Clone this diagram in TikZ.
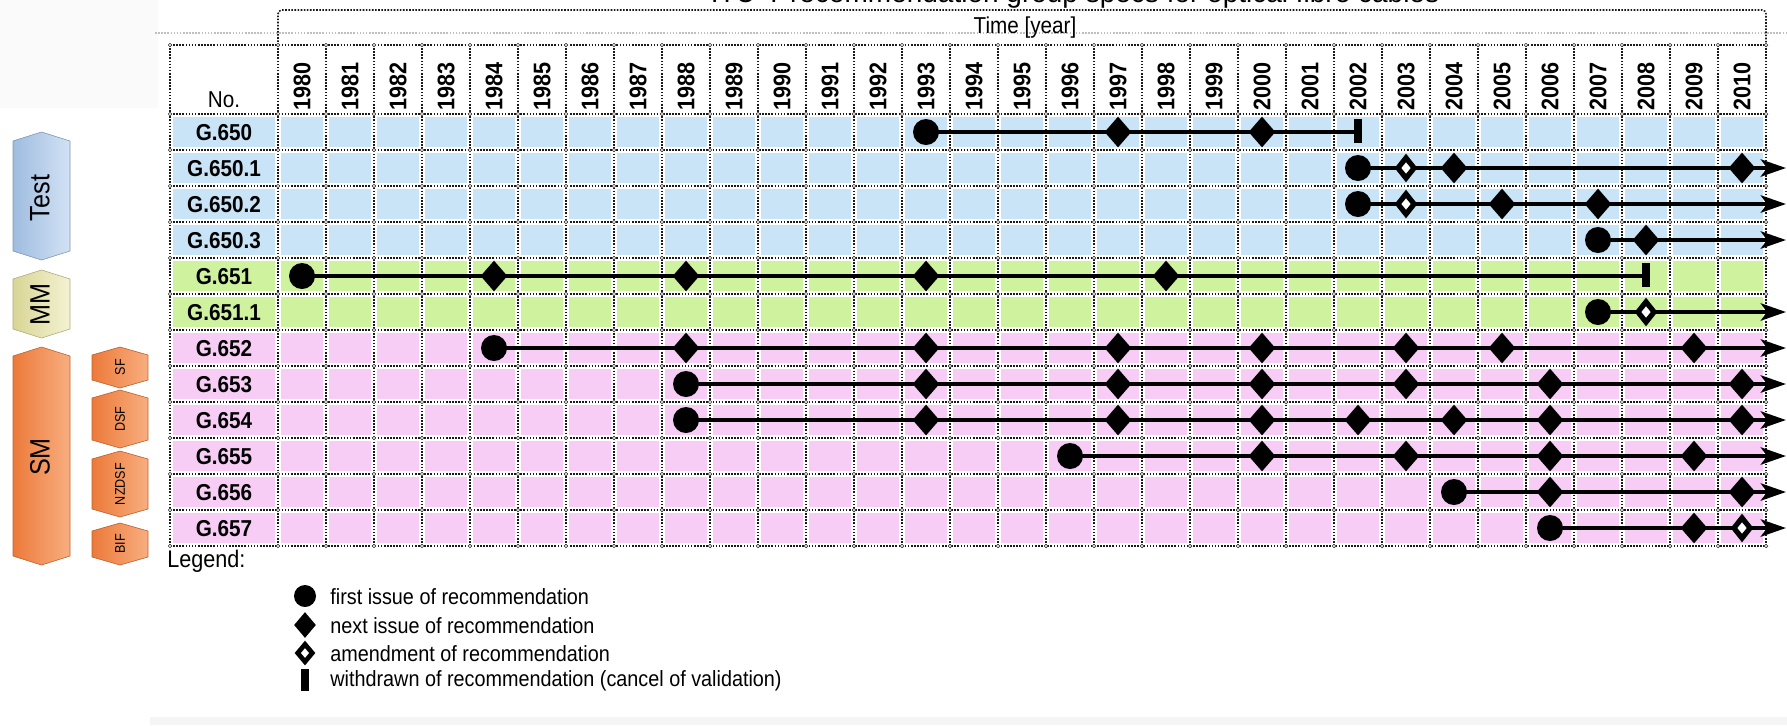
\documentclass[tikz,border=0pt]{standalone}
\usepackage{fontspec}
\setmainfont{Liberation Sans}
\newfontfamily\nar[FakeStretch=0.9]{Liberation Sans}
\usetikzlibrary{arrows.meta,shapes.geometric}
\definecolor{cblue}{HTML}{C8E4F6}
\definecolor{cgreen}{HTML}{CFF29E}
\definecolor{cpink}{HTML}{F7CCF5}
\definecolor{testA}{HTML}{9FBCE0}
\definecolor{testB}{HTML}{D2E2F4}
\definecolor{mmA}{HTML}{D9D596}
\definecolor{mmB}{HTML}{F4F2D2}
\definecolor{smA}{HTML}{EC7A3A}
\definecolor{smB}{HTML}{F8AE80}
\begin{document}
\begin{tikzpicture}[x=0.5pt,y=-0.5pt,
  grid/.style={line width=0.8pt, dash pattern=on 0.8pt off 0.75pt, black!90},
  knot/.style={line width=0.3pt, draw=black!80, fill=white},
  conn/.style={line width=2.2pt, black},
  arr/.style={conn, -{Stealth[length=12.5pt,width=8.5pt,inset=3pt]}},
  first/.style={circle, fill=black, minimum size=13pt, inner sep=0pt},
  nextis/.style={diamond, fill=black, minimum width=13.5pt, minimum height=15.5pt, inner sep=0pt},
  amend/.style={diamond, fill=black, minimum width=11.5pt, minimum height=14.5pt, inner sep=0pt,
    path picture={\fill[white] (path picture bounding box.center) ++(0pt,2.8pt) -- ++(2.3pt,-2.8pt) -- ++(-2.3pt,-2.8pt) -- ++(-2.3pt,2.8pt) -- cycle;}},
  wdr/.style={rectangle, fill=black, minimum width=4pt, minimum height=12pt, inner sep=0pt},
  legfirst/.style={circle, fill=black, minimum size=11pt, inner sep=0pt},
  legnext/.style={diamond, fill=black, minimum width=11pt, minimum height=13pt, inner sep=0pt},
  legamend/.style={diamond, fill=black, minimum width=10.5pt, minimum height=12.5pt, inner sep=0pt,
    path picture={\fill[white] (path picture bounding box.center) ++(0pt,2.4pt) -- ++(2pt,-2.4pt) -- ++(-2pt,-2.4pt) -- ++(-2pt,2.4pt) -- cycle;}},
  legwdr/.style={rectangle, fill=black, minimum width=4pt, minimum height=11pt, inner sep=0pt},
  rowlab/.style={font=\nar\bfseries\fontsize{11.5pt}{12pt}\selectfont, inner sep=0pt},
  yearlab/.style={font=\nar\bfseries\fontsize{12pt}{12pt}\selectfont, inner sep=0pt, rotate=90},
  plain/.style={font=\nar\fontsize{11.5pt}{12pt}\selectfont, inner sep=0pt},
  legtext/.style={font=\nar\fontsize{11pt}{12pt}\selectfont, inner sep=0pt, anchor=west},
  biglab/.style={font=\nar\fontsize{14pt}{14pt}\selectfont, inner sep=0pt, rotate=90},
  smalllab/.style={font=\nar\fontsize{7pt}{7pt}\selectfont, inner sep=0pt, rotate=90}
]
\useasboundingbox (0,0) rectangle (1787,725);
% faint background areas
\fill[black!2] (0,0) rectangle (158,108);
\fill[black!4] (150,717) rectangle (1787,725);
% title (cut off at the top, as in the source)
\node[font=\fontsize{14pt}{14pt}\selectfont, anchor=base, inner sep=0pt] (title) at (1075,2) {ITU-T recommendation group specs for optical fibre cables};
% cell fills
\foreach \i in {0,...,3}{
  \fill[cblue] (173,{114+36*\i+3}) rectangle (275,{114+36*\i+33});
  \foreach \c in {0,...,30} \fill[cblue] ({278+48*\c+3},{114+36*\i+3}) rectangle ({278+48*\c+45},{114+36*\i+33});
}
\foreach \i in {4,5}{
  \fill[cgreen] (173,{114+36*\i+3}) rectangle (275,{114+36*\i+33});
  \foreach \c in {0,...,30} \fill[cgreen] ({278+48*\c+3},{114+36*\i+3}) rectangle ({278+48*\c+45},{114+36*\i+33});
}
\foreach \i in {6,...,11}{
  \fill[cpink] (173,{114+36*\i+3}) rectangle (275,{114+36*\i+33});
  \foreach \c in {0,...,30} \fill[cpink] ({278+48*\c+3},{114+36*\i+3}) rectangle ({278+48*\c+45},{114+36*\i+33});
}
% header box and grid
\draw[grid, black!25] (155,33) -- (1787,33);
\draw[grid, rounded corners=2pt] (278,45) -- (278,10) -- (1766,10) -- (1766,45);
\foreach \y in {45,114,150,186,222,258,294,330,366,402,438,474,510,546}
  \draw[grid] (170,\y) -- (1766,\y);
\foreach \x in {170,278,326,...,1766}
  \draw[grid] (\x,45) -- (\x,546);
\foreach \x in {170,278,326,...,1766}
  \foreach \y in {45,114,150,186,222,258,294,330,366,402,438,474,510,546}
    \draw[knot] (\x,\y) circle[radius=1.8];
% header texts
\node[plain] (time) at (1025,28) {Time [year]};
\node[plain, anchor=base] (no) at (224,107) {No.};
\foreach \k in {0,...,30}{
  \pgfmathtruncatemacro\yr{1980+\k}
  \node[yearlab] (y\yr) at ({302+48*\k},86) {\yr};
}
% row labels
\foreach \lab [count=\i from 0] in {G.650,G.650.1,G.650.2,G.650.3,G.651,G.651.1,G.652,G.653,G.654,G.655,G.656,G.657}
  \node[rowlab] (lab\i) at (224,{133+36*\i}) {\lab};
% connectors
\foreach \i/\s in {0/1993,1/2002,2/2002,3/2007,4/1980,5/2007,6/1984,7/1988,8/1988,9/1996,10/2004,11/2006}
  \coordinate (s\i) at ({302+48*(\s-1980)},{132+36*\i});
\coordinate (e0) at ({302+48*22},132);
\coordinate (e4) at ({302+48*28},{132+36*4});
\foreach \i in {1,2,3,5,6,7,8,9,10,11}
  \coordinate (e\i) at (1786,{132+36*\i});
\draw[conn] (s0) -- (e0);
\draw[conn] (s4) -- (e4);
\foreach \i in {1,2,3,5,6,7,8,9,10,11}
  \draw[arr] (s\i) -- (e\i);
% markers
\foreach \i/\y in {0/1993,1/2002,2/2002,3/2007,4/1980,5/2007,6/1984,7/1988,8/1988,9/1996,10/2004,11/2006}
  \node[first] (m\i-\y) at ({302+48*(\y-1980)},{132+36*\i}) {};
\foreach \i/\y in {0/1997,0/2000,1/2004,1/2010,2/2005,2/2007,3/2008,4/1984,4/1988,4/1993,4/1998,
  6/1988,6/1993,6/1997,6/2000,6/2003,6/2005,6/2009,7/1993,7/1997,7/2000,7/2003,7/2006,7/2010,
  8/1993,8/1997,8/2000,8/2002,8/2004,8/2006,8/2010,9/2000,9/2003,9/2006,9/2009,10/2006,10/2010,11/2009}
  \node[nextis] (m\i-\y) at ({302+48*(\y-1980)},{132+36*\i}) {};
\foreach \i/\y in {1/2003,2/2003,5/2008,11/2010}
  \node[amend] (m\i-\y) at ({302+48*(\y-1980)},{132+36*\i}) {};
\foreach \i/\y in {0/2002,4/2008}
  \node[wdr] (m\i-\y) at ({302+48*(\y-1980)},{131+36*\i}) {};
% legend
\node[font=\nar\fontsize{12pt}{12pt}\selectfont, inner sep=0pt, anchor=west] (legend) at (167,561) {Legend:};
\node[legfirst] (l1) at (305,596) {};
\node[legtext] (t1) at (330,597) {first issue of recommendation};
\node[legnext] (l2) at (305,625) {};
\node[legtext] (t2) at (330,626) {next issue of recommendation};
\node[legamend] (l3) at (305,653) {};
\node[legtext] (t3) at (330,654) {amendment of recommendation};
\node[legwdr] (l4) at (305,680) {};
\node[legtext] (t4) at (330,681) {withdrawn of recommendation (cancel of validation)};
% left category labels
\shade[left color=testA, right color=testB, draw=testA!80!black, line width=0.3pt]
  (13,141) -- (41.5,132) -- (70,141) -- (70,251) -- (41.5,260) -- (13,251) -- cycle;
\node[biglab] (test) at (40,198) {Test};
\shade[left color=mmA, right color=mmB, draw=mmA!80!black, line width=0.3pt]
  (13,279) -- (41.5,270) -- (70,279) -- (70,329) -- (41.5,338) -- (13,329) -- cycle;
\node[biglab] (mm) at (40,304) {MM};
\shade[left color=smA, right color=smB, draw=smA!80!black, line width=0.3pt]
  (13,356) -- (41.5,347) -- (70,356) -- (70,556) -- (41.5,565) -- (13,556) -- cycle;
\node[biglab] (sm) at (40,457) {SM};
\shade[left color=smA, right color=smB, draw=smA!80!black, line width=0.3pt]
  (92,355) -- (120,347) -- (148,355) -- (148,380) -- (120,388) -- (92,380) -- cycle;
\node[smalllab] (sf) at (120,367) {SF};
\shade[left color=smA, right color=smB, draw=smA!80!black, line width=0.3pt]
  (92,398) -- (120,390) -- (148,398) -- (148,440) -- (120,448) -- (92,440) -- cycle;
\node[smalllab] (dsf) at (120,419) {DSF};
\shade[left color=smA, right color=smB, draw=smA!80!black, line width=0.3pt]
  (92,459) -- (120,451) -- (148,459) -- (148,509) -- (120,517) -- (92,509) -- cycle;
\node[smalllab] (nzdsf) at (120,484) {NZDSF};
\shade[left color=smA, right color=smB, draw=smA!80!black, line width=0.3pt]
  (92,531) -- (120,523) -- (148,531) -- (148,557) -- (120,565) -- (92,557) -- cycle;
\node[smalllab] (bif) at (120,544) {BIF};
\end{tikzpicture}
\end{document}
